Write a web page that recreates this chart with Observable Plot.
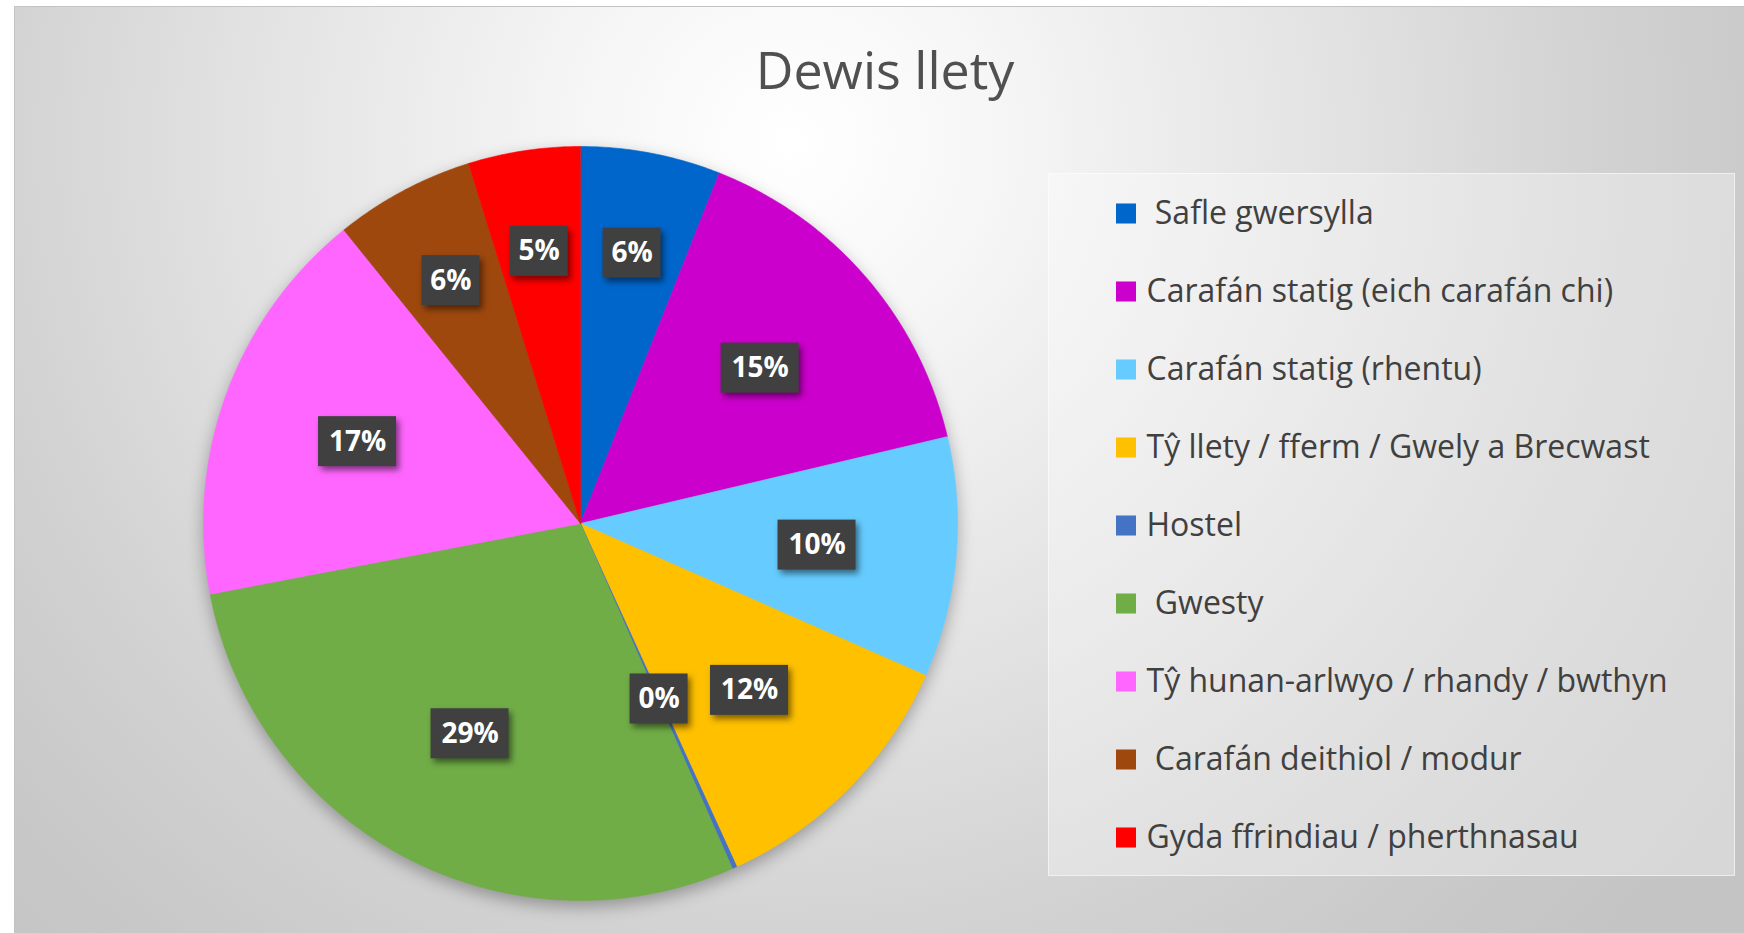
<!DOCTYPE html>
<html>
<head>
<meta charset="utf-8">
<script src="https://cdn.jsdelivr.net/npm/d3@7"></script>
<script src="https://cdn.jsdelivr.net/npm/@observablehq/plot@0.6"></script>
<style>
  html, body { margin: 0; padding: 0; background: #ffffff; width: 1744px; height: 933px; overflow: hidden; position: relative; }
  #frame {
    position: absolute; left: 14px; top: 6px; width: 1745px; height: 940px; box-sizing: border-box;
    border: 1px solid #c3c3c3;
    background: radial-gradient(circle 1150px at 776px 134px, #ffffff 0%, #f6f6f6 18%, #e2e2e2 48%, #d2d2d2 70%, #c8c8c8 88%, #c4c4c4 100%);
  }
  #title {
    position: absolute; left: 485px; width: 800px; top: 43px; text-align: center;
    font-family: "Open Sans", sans-serif; font-size: 52px; line-height: 52px; color: #505050; font-weight: 400;
  }
  #legendbox {
    position: absolute; left: 1048px; top: 173px; width: 687px; height: 703px; box-sizing: border-box;
    background: rgba(255,255,255,0.33); border: 1px solid rgba(255,255,255,0.55);
  }
  #pie { position: absolute; left: 180px; top: 123px; }
  #legend { position: absolute; left: 1048px; top: 173px; }
  svg text { white-space: pre; }
  #pie g[aria-label="line"] { filter: drop-shadow(0px 6px 8px rgba(0,0,0,0.3)); }
  #pie g[aria-label="rect"] { filter: drop-shadow(3px 4px 3px rgba(0,0,0,0.5)); }
</style>
</head>
<body>
<div id="frame"></div>
<div id="title"></div>
<div id="legendbox"></div>
<div id="pie"></div>
<div id="legend"></div>
<script>
const title = "Dewis llety";
const categories = [
  " Safle gwersylla",
  "Carafán statig (eich carafán chi)",
  "Carafán statig (rhentu)",
  "Tŷ llety / fferm / Gwely a Brecwast",
  "Hostel",
  " Gwesty",
  "Tŷ hunan-arlwyo / rhandy / bwthyn",
  " Carafán deithiol / modur",
  "Gyda ffrindiau / pherthnasau"
];
const shares = [6.0, 15.3, 10.3, 11.6, 0.2, 28.6, 17.2, 6.0, 4.8];
const colors = ["#0066CC", "#CC00CC", "#66CCFF", "#FFC000", "#4472C4", "#70AD47", "#FF66FF", "#9E480E", "#FF0000"];

document.getElementById("title").textContent = title;

const rows = categories.map((c, i) => ({category: c, share: shares[i]}));
const arcs = d3.pie().sort(null).value(d => d.share)(rows);

const slicePoints = arcs.flatMap(a => {
  const pts = [{category: a.data.category, x: 0, y: 0}];
  const n = Math.max(2, Math.ceil((a.endAngle - a.startAngle) / (Math.PI / 360)));
  for (let k = 0; k <= n; k++) {
    const t = a.startAngle + (a.endAngle - a.startAngle) * k / n;
    pts.push({category: a.data.category, x: Math.sin(t), y: Math.cos(t)});
  }
  return pts;
});

const labelRows = arcs.map(a => {
  const m = (a.startAngle + a.endAngle) / 2;
  const p = a.data.share;
  const f = p < 1 ? 0.51 : p < 8 ? 0.73 : 0.63;
  return {label: Math.round(p) + "%", x: f * Math.sin(m), y: f * Math.cos(m)};
});

const pie = Plot.plot({
  width: 800, height: 800, margin: 23,
  x: {axis: null, domain: [-1, 1]},
  y: {axis: null, domain: [-1, 1]},
  color: {domain: categories, range: colors},
  style: {background: "transparent", overflow: "visible"},
  marks: [
    Plot.line(slicePoints, {x: "x", y: "y", z: "category", fill: "category", stroke: "category", strokeWidth: 0.6, curve: "linear-closed"}),
    Plot.rect(labelRows.filter(d => d.label.length < 3), {x1: "x", x2: "x", y1: "y", y2: "y", fill: "#404040", insetLeft: -29, insetRight: -29, insetTop: -25, insetBottom: -25}),
    Plot.rect(labelRows.filter(d => d.label.length >= 3), {x1: "x", x2: "x", y1: "y", y2: "y", fill: "#404040", insetLeft: -39, insetRight: -39, insetTop: -25, insetBottom: -25}),
    Plot.text(labelRows, {x: "x", y: "y", text: "label", fill: "white", fontSize: 28, fontWeight: "bold", fontFamily: "Open Sans"})
  ]
});
document.getElementById("pie").appendChild(pie);

const legend = Plot.plot({
  width: 687, height: 703, margin: 0,
  y: {type: "point", domain: categories, padding: 0.5, axis: null},
  color: {domain: categories, range: colors},
  style: {background: "transparent", overflow: "visible"},
  marks: [
    Plot.dot(categories, {y: d => d, fill: d => d, symbol: "square", r: 11.3, frameAnchor: "left", dx: 77.5}),
    Plot.text(categories, {y: d => d, text: d => d, frameAnchor: "left", dx: 98, textAnchor: "start", fontSize: 32, fill: "#404040", fontFamily: "Open Sans"})
  ]
});
document.getElementById("legend").appendChild(legend);
</script>
</body>
</html>
